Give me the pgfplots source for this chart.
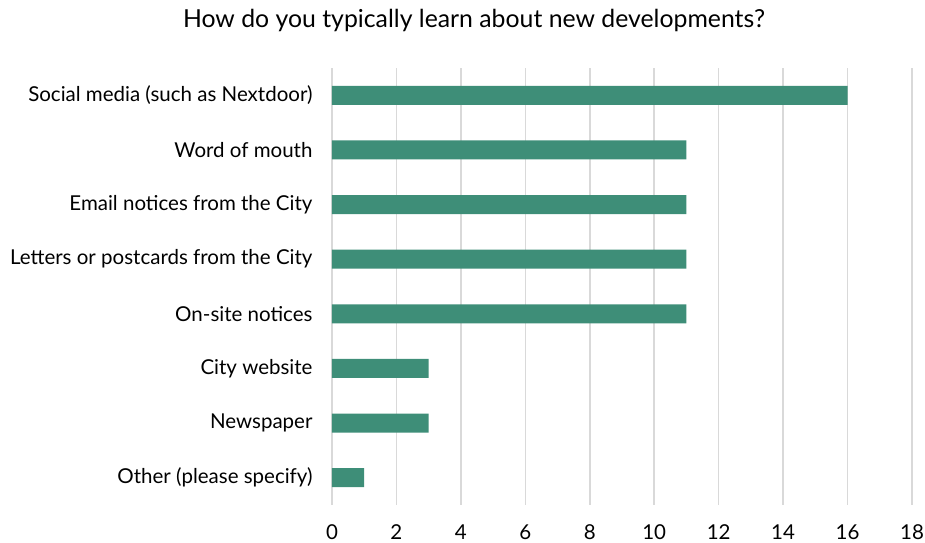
\documentclass[border=0pt]{standalone}
\usepackage{pgfplots}
\pgfplotsset{compat=1.18}
\usepackage{fontspec}
\setmainfont{Lato}
\definecolor{barcol}{HTML}{3E8E78}
\definecolor{gridcol}{HTML}{D9D9D9}
\begin{document}
\begin{tikzpicture}
\path[use as bounding box] (-332pt,-37pt) rectangle (593pt,505pt);
\begin{axis}[
    at={(0,0)}, anchor=south west,
    scale only axis,
    width=580pt, height=437pt,
    xbar, bar width=19pt,
    xmin=0, xmax=18,
    xtick={0,2,...,18},
    ymin=-0.5, ymax=7.5,
    y dir=reverse,
    ytick={0,...,7},
    yticklabels={Social media (such as Nextdoor),Word of mouth,Email notices from the City,Letters or postcards from the City,On-site notices,City website,Newspaper,Other (please specify)},
    axis line style={draw=none},
    major tick length=0pt,
    xmajorgrids=true,
    grid style={gridcol, line width=1.5pt},
    tick label style={font=\fontsize{20.5pt}{23pt}\selectfont},
    /pgf/number format/assume math mode=true,
    yticklabel style={xshift=-16pt},
    xticklabel style={yshift=-16pt},
]
\addplot[fill=barcol, draw=none] coordinates {
(16,0) (11,1) (11,2) (11,3) (11,4) (3,5) (3,6) (1,7)
};
\end{axis}
\node[font=\fontsize{24.8pt}{27pt}\selectfont] at (142pt,485pt) {How do you typically learn about new developments?};
\end{tikzpicture}
\end{document}
